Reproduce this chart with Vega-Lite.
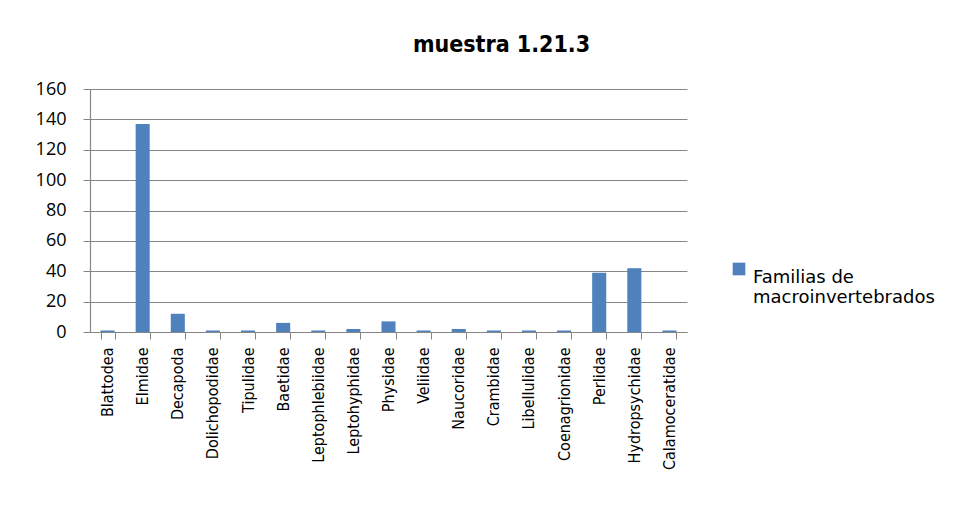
{
  "$schema": "https://vega.github.io/schema/vega-lite/v6.json",
  "width": 597,
  "height": 243,
  "autosize": {"type": "none"},
  "padding": {"left": 90, "top": 89, "right": 291, "bottom": 173},
  "background": "white",
  "title": {"text": "muestra 1.21.3", "fontSize": 23, "fontWeight": "bold", "font": "DejaVu Sans Condensed", "anchor": "middle", "offset": 23, "color": "black", "dx": 113},
  "data": {"values": [
    {"familia": "Blattodea", "n": 1, "serie": "Familias de macroinvertebrados"},
    {"familia": "Elmidae", "n": 137, "serie": "Familias de macroinvertebrados"},
    {"familia": "Decapoda", "n": 12, "serie": "Familias de macroinvertebrados"},
    {"familia": "Dolichopodidae", "n": 1, "serie": "Familias de macroinvertebrados"},
    {"familia": "Tipulidae", "n": 1, "serie": "Familias de macroinvertebrados"},
    {"familia": "Baetidae", "n": 6, "serie": "Familias de macroinvertebrados"},
    {"familia": "Leptophlebiidae", "n": 1, "serie": "Familias de macroinvertebrados"},
    {"familia": "Leptohyphidae", "n": 2, "serie": "Familias de macroinvertebrados"},
    {"familia": "Physidae", "n": 7, "serie": "Familias de macroinvertebrados"},
    {"familia": "Veliidae", "n": 1, "serie": "Familias de macroinvertebrados"},
    {"familia": "Naucoridae", "n": 2, "serie": "Familias de macroinvertebrados"},
    {"familia": "Crambidae", "n": 1, "serie": "Familias de macroinvertebrados"},
    {"familia": "Libellulidae", "n": 1, "serie": "Familias de macroinvertebrados"},
    {"familia": "Coenagrionidae", "n": 1, "serie": "Familias de macroinvertebrados"},
    {"familia": "Perlidae", "n": 39, "serie": "Familias de macroinvertebrados"},
    {"familia": "Hydropsychidae", "n": 42, "serie": "Familias de macroinvertebrados"},
    {"familia": "Calamoceratidae", "n": 1, "serie": "Familias de macroinvertebrados"}
  ]},
  "mark": {"type": "bar", "color": "#4F81BD"},
  "encoding": {
    "x": {
      "field": "familia", "type": "nominal", "sort": null,
      "scale": {"paddingInner": 0.6, "paddingOuter": 0.3},
      "axis": {
        "title": null, "labelAngle": -90, "labelFont": "DejaVu Sans Condensed", "labelFontSize": 16,
        "labelColor": "black", "labelPadding": 8, "tickBand": "extent", "tickColor": "#868686",
        "tickSize": 7, "domainColor": "#868686", "grid": false
      }
    },
    "y": {
      "field": "n", "type": "quantitative",
      "scale": {"domain": [0, 160], "nice": false},
      "axis": {
        "title": null, "values": [0, 20, 40, 60, 80, 100, 120, 140, 160], "labelFont": "Open Sans",
        "labelFontSize": 18, "labelColor": "black", "labelPadding": 17, "tickColor": "#868686",
        "tickSize": 7, "domainColor": "#868686", "gridColor": "#868686", "gridWidth": 1.2
      }
    },
    "color": {
      "field": "serie", "type": "nominal",
      "scale": {"range": ["#4F81BD"]},
      "legend": {
        "title": null, "orient": "none", "legendX": 640, "legendY": 171,
        "symbolType": "square", "symbolSize": 160, "symbolOpacity": 1,
        "labelFont": "DejaVu Sans", "labelFontSize": 18, "labelColor": "black",
        "labelLimit": 300, "labelExpr": "['Familias de', 'macroinvertebrados']",
        "labelBaseline": "top", "labelOffset": 5
      }
    }
  },
  "config": {"view": {"stroke": null}, "axis": {"domainWidth": 1.2}}
}
